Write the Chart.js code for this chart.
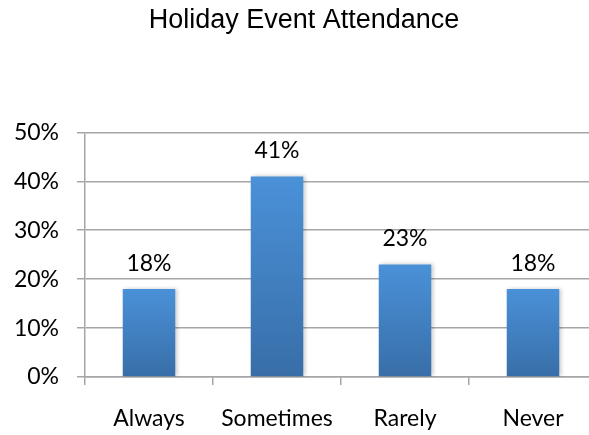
<!DOCTYPE html>
<html>
<head>
<meta charset="utf-8">
<script src="https://cdn.jsdelivr.net/npm/chart.js@4/dist/chart.umd.min.js"></script>
<style>
  html, body { margin: 0; padding: 0; background: #fff; overflow: hidden; }
  #wrap { width: 608px; height: 435px; }
</style>
</head>
<body>
<div id="wrap"><canvas id="chart" width="608" height="435"></canvas></div>
<script>
const titleText = 'Holiday Event Attendance';
const categories = ['Always', 'Sometimes', 'Rarely', 'Never'];
const attendance = [18, 41, 23, 18];
const yTicks = [0, 10, 20, 30, 40, 50];

const labelFont = { family: 'Lato', size: 23 };
const lineGray = '#a6a6a6';

// vertical gradient per bar, light on top, darker at the base
function barFill(c) {
  const chart = c.chart;
  const y = chart.scales.y;
  if (!chart.chartArea || !y || c.parsed == null) return '#4a8fd6';
  const top = y.getPixelForValue(c.parsed.y);
  const bottom = y.getPixelForValue(0);
  if (!isFinite(top) || !isFinite(bottom)) return '#4a8fd6';
  const g = chart.ctx.createLinearGradient(0, top, 0, bottom);
  g.addColorStop(0, '#4a91d8');
  g.addColorStop(1, '#386ea8');
  return g;
}

const barShadow = {
  id: 'barShadow',
  beforeDatasetsDraw(chart) {
    const ctx = chart.ctx;
    ctx.save();
    ctx.shadowColor = 'rgba(0,0,0,0.22)';
    ctx.shadowBlur = 4;
    ctx.shadowOffsetX = 2;
    ctx.shadowOffsetY = 0;
  },
  afterDatasetsDraw(chart) {
    chart.ctx.restore();
  }
};

const valueLabels = {
  id: 'valueLabels',
  afterDraw(chart) {
    const ctx = chart.ctx;
    const meta = chart.getDatasetMeta(0);
    ctx.save();
    ctx.font = labelFont.size + 'px ' + labelFont.family;
    ctx.fillStyle = '#000';
    ctx.textAlign = 'center';
    ctx.textBaseline = 'bottom';
    meta.data.forEach((bar, i) => {
      ctx.fillText(attendance[i] + '%', bar.x, bar.y - 14);
    });
    ctx.restore();
  }
};

new Chart(document.getElementById('chart'), {
  type: 'bar',
  data: {
    labels: categories,
    datasets: [{
      data: attendance,
      backgroundColor: barFill,
      borderWidth: 0,
      barPercentage: 0.41,
      categoryPercentage: 1
    }]
  },
  options: {
    responsive: false,
    animation: false,
    layout: { padding: { left: 11, right: 11, top: 0, bottom: 0 } },
    plugins: {
      legend: { display: false },
      tooltip: { enabled: false },
      title: {
        display: true,
        text: titleText,
        color: '#000',
        font: { family: 'Liberation Sans', size: 27, weight: 'normal', lineHeight: 1.2 },
        padding: { top: 4, bottom: 96 }
      }
    },
    scales: {
      x: {
        grid: { display: true, drawOnChartArea: false, drawTicks: true, tickLength: 8, offset: true, color: lineGray, lineWidth: 1.5 },
        border: { display: true, color: lineGray, width: 1.5 },
        ticks: { color: '#000', font: labelFont, padding: 20, maxRotation: 0 },
        afterFit(s) { s.height = 58; }
      },
      y: {
        min: 0,
        max: 50,
        afterBuildTicks(s) { s.ticks = yTicks.map(v => ({ value: v })); },
        grid: { color: lineGray, lineWidth: 1.5, drawTicks: true, tickLength: 8 },
        border: { display: true, color: lineGray, width: 1.5 },
        ticks: { color: '#000', font: labelFont, padding: 18, callback: v => v + '%' },
        afterFit(s) { s.width = 74; }
      }
    }
  },
  plugins: [barShadow, valueLabels]
});
</script>
</body>
</html>
